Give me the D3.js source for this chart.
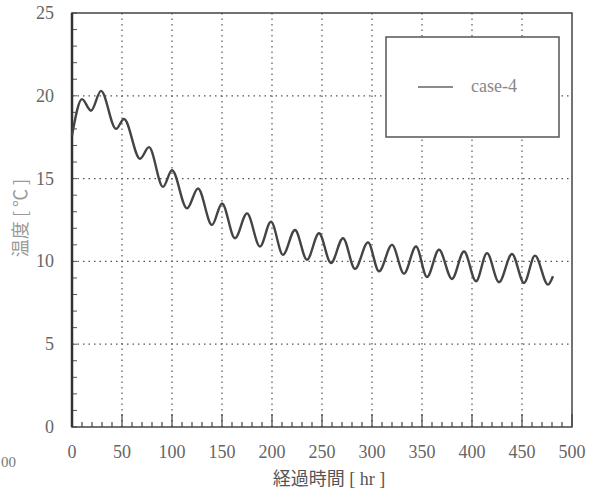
<!DOCTYPE html>
<html>
<head>
<meta charset="utf-8">
<script src="https://cdn.jsdelivr.net/npm/d3@7"></script>
<style>
  body { margin: 0; background: #fff; }
  svg { display: block; }
</style>
</head>
<body>
<div id="plot"></div>
<script>
// (hours, deg C), peaks and troughs
const hours = [0, 10, 19, 29, 44, 52, 68, 77, 91, 100, 115, 126, 140, 150, 163, 175, 188, 199,
  211, 223, 235, 247, 259, 271, 283, 296, 307, 320, 332, 344, 355, 367, 380, 392, 404, 415,
  427, 440, 452, 463, 476, 481];
const temps = [17.6, 19.8, 19.1, 20.3, 18.0, 18.6, 16.2, 16.9, 14.5, 15.5, 13.2, 14.4, 12.2, 13.5,
  11.4, 12.9, 10.9, 12.4, 10.4, 11.9, 10.1, 11.7, 9.9, 11.4, 9.55, 11.15, 9.4, 11.0, 9.26, 10.9,
  9.06, 10.7, 8.94, 10.6, 8.8, 10.5, 8.74, 10.45, 8.7, 10.35, 8.6, 9.1];
const xTicks = [0, 50, 100, 150, 200, 250, 300, 350, 400, 450, 500];
const yTicks = [0, 5, 10, 15, 20, 25];
const seriesName = "case-4";
const xTitle = "経過時間";
const xUnit = " [ hr ]";
const yTitle = "温度 [ ℃ ]";

window.addEventListener("load", main);

function main(){
  const width = 595, height = 493;
  const left = 72, right = 572, top = 13, bottom = 427;

  const svg = d3.select("#plot").append("svg")
    .attr("width", width)
    .attr("height", height);

  const x = d3.scaleLinear().domain([0, 500]).range([left, right]);
  const y = d3.scaleLinear().domain([0, 25]).range([bottom, top]);

  const serif = "'Liberation Serif', 'DejaVu Serif', serif";

  // dotted grid
  svg.append("g")
    .selectAll("line.vx")
    .data(xTicks.slice(1, -1))
    .join("line")
    .attr("x1", d => x(d)).attr("x2", d => x(d))
    .attr("y1", top).attr("y2", bottom)
    .attr("stroke", "#555").attr("stroke-width", 1.2)
    .attr("stroke-dasharray", "1.5,4");
  svg.append("g")
    .selectAll("line.hy")
    .data(yTicks.slice(1, -1))
    .join("line")
    .attr("x1", left).attr("x2", right)
    .attr("y1", d => y(d)).attr("y2", d => y(d))
    .attr("stroke", "#555").attr("stroke-width", 1.2)
    .attr("stroke-dasharray", "1.5,4");

  // minor ticks
  const xMinor = d3.range(0, 501, 10);
  svg.append("g")
    .selectAll("line")
    .data(xMinor)
    .join("line")
    .attr("x1", d => x(d)).attr("x2", d => x(d))
    .attr("y1", bottom)
    .attr("y2", d => bottom - (d % 50 === 0 ? 13 : 5))
    .attr("stroke", "#444").attr("stroke-width", 1.2);
  const yMinor = d3.range(0, 26, 1);
  svg.append("g")
    .selectAll("line")
    .data(yMinor)
    .join("line")
    .attr("x1", left).attr("x2", left + 5)
    .attr("y1", d => y(d)).attr("y2", d => y(d))
    .attr("stroke", "#555").attr("stroke-width", 1);

  // frame
  svg.append("rect")
    .attr("x", left).attr("y", top)
    .attr("width", right - left).attr("height", bottom - top)
    .attr("fill", "none").attr("stroke", "#444").attr("stroke-width", 1.5);
  svg.append("line")
    .attr("x1", left).attr("x2", left)
    .attr("y1", top).attr("y2", bottom)
    .attr("stroke", "#333").attr("stroke-width", 2.5);

  // curve
  const pts = hours.map((h, i) => [h, temps[i]]);
  const line = d3.line()
    .x(d => x(d[0]))
    .y(d => y(d[1]))
    .curve(d3.curveMonotoneX);
  svg.append("path")
    .datum(pts)
    .attr("d", line)
    .attr("fill", "none")
    .attr("stroke", "#444")
    .attr("stroke-width", 2.4);

  // tick labels
  svg.append("g")
    .selectAll("text")
    .data(xTicks)
    .join("text")
    .attr("x", d => x(d))
    .attr("y", 458)
    .attr("text-anchor", "middle")
    .attr("font-family", serif)
    .attr("font-size", 18)
    .attr("fill", "#666")
    .text(d => d);
  svg.append("g")
    .selectAll("text")
    .data(yTicks)
    .join("text")
    .attr("x", 54)
    .attr("y", d => y(d) + 6)
    .attr("text-anchor", "end")
    .attr("font-family", serif)
    .attr("font-size", 18)
    .attr("fill", "#666")
    .text(d => d);

  // stray label from the neighbouring figure on the scan
  svg.append("text")
    .attr("x", 1).attr("y", 467)
    .attr("font-family", serif)
    .attr("font-size", 15)
    .attr("fill", "#777")
    .text("00");

  // axis titles
  const xt = svg.append("text")
    .attr("x", 329).attr("y", 485)
    .attr("text-anchor", "middle")
    .attr("font-size", 18)
    .attr("fill", "#555");
  xt.append("tspan").attr("font-family", "'Noto Sans CJK JP'").text(xTitle);
  xt.append("tspan").attr("font-family", serif).text(xUnit);

  svg.append("text")
    .attr("transform", "translate(27,218) rotate(-90)")
    .attr("text-anchor", "middle")
    .attr("font-family", "'Noto Sans CJK JP'")
    .attr("font-size", 18)
    .attr("fill", "#999")
    .text(yTitle);

  // legend
  const lg = svg.append("g");
  lg.append("rect")
    .attr("x", 386).attr("y", 37)
    .attr("width", 173).attr("height", 100)
    .attr("fill", "#fff").attr("stroke", "#555").attr("stroke-width", 1.5);
  lg.append("line")
    .attr("x1", 418).attr("x2", 453)
    .attr("y1", 87).attr("y2", 87)
    .attr("stroke", "#666").attr("stroke-width", 1.5);
  lg.append("text")
    .attr("x", 471).attr("y", 92)
    .attr("font-family", serif)
    .attr("font-size", 18)
    .attr("fill", "#888")
    .text(seriesName);
}
</script>
</body>
</html>
